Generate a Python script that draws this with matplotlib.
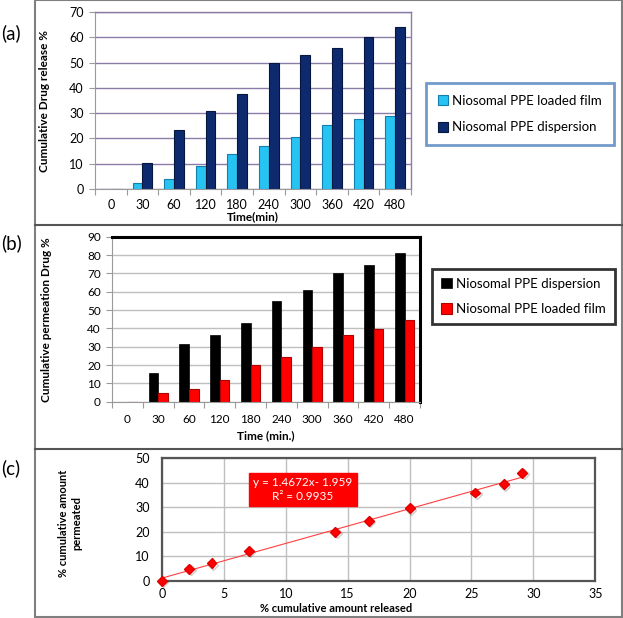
import numpy as np
import matplotlib
matplotlib.use("Agg")
import matplotlib.pyplot as plt
from matplotlib.patches import Rectangle
from matplotlib.lines import Line2D
import matplotlib.patheffects as pe

plt.rcParams['font.family'] = ['Lato', 'DejaVu Sans']

# ---------------- data ----------------
time_labels = ["0", "30", "60", "120", "180", "240", "300", "360", "420", "480"]

# (a) release
release_film = [0, 2.3, 4.0, 9.0, 13.7, 17.0, 20.5, 25.4, 27.7, 29.0]
release_disp = [0, 10.3, 23.3, 30.8, 37.7, 49.7, 53.0, 55.7, 60.1, 63.9]

# (b) permeation
perm_disp = [0, 15.8, 31.3, 36.4, 43.0, 54.7, 60.8, 70.4, 74.4, 81.3]
perm_film = [0, 5.0, 7.0, 12.0, 20.0, 24.6, 30.0, 36.2, 39.6, 44.6]

# (c) correlation
corr_released = [0, 2.2, 4.0, 7.0, 14.0, 16.7, 20.0, 25.3, 27.6, 29.1]
corr_permeated = [0, 4.9, 7.1, 12.1, 19.9, 24.4, 29.6, 36.0, 39.4, 44.0]
eq_text = "y = 1.4672x- 1.959"
r2_text = "R² = 0.9935"

W, H = 623, 618
fig = plt.figure(figsize=(W / 100, H / 100), dpi=100)

def ax_px(x0, y0, x1, y1):
    return fig.add_axes([x0 / W, 1 - y1 / H, (x1 - x0) / W, (y1 - y0) / H])

def fx(x):
    return x / W

def fy(y):
    return 1 - y / H

# outer panel frames
fig.patches.append(Rectangle((fx(35), fy(617)), fx(622) - fx(35), fy(0) - fy(617),
                             transform=fig.transFigure, fill=False, edgecolor='#7f7f7f', lw=1.5))
for yy in (225, 449):
    fig.add_artist(Line2D([fx(35), fx(622)], [fy(yy), fy(yy)], transform=fig.transFigure,
                          color='#555555', lw=1.5))

# panel labels
for lab, yy in (("(a)", 33), ("(b)", 243), ("(c)", 468)):
    fig.text(fx(11), fy(yy), lab, fontsize=13.5, ha='center', va='center')

x = np.arange(len(time_labels))

def cat_axis(ax, tick_fs, spine_col, xpad):
    ax.set_xlim(-0.5, len(time_labels) - 0.5)
    ax.set_xticks(np.arange(-0.5, len(time_labels)), labels=[])
    ax.set_xticks(x, labels=time_labels, minor=True)
    ax.tick_params(axis='x', which='major', length=4, color=spine_col, direction='out')
    ax.tick_params(axis='x', which='minor', length=0, pad=xpad, labelsize=tick_fs)
    ax.tick_params(axis='y', length=4, color=spine_col, labelsize=tick_fs, pad=4)
    ax.set_axisbelow(True)

# ---------------- (a) ----------------
axa = ax_px(95, 12, 411, 189)
bw = 0.31
axa.bar(x - bw / 2, release_film, bw, color='#27C3F3', edgecolor='#147FAF', lw=0.8,
        label='Niosomal PPE loaded film')
axa.bar(x + bw / 2, release_disp, bw, color='#0E2A6E', edgecolor='#06173F', lw=0.8,
        label='Niosomal PPE dispersion')
axa.set_ylim(0, 70)
axa.set_yticks(np.arange(0, 71, 10))
cat_axis(axa, 9, '#9a9a9a', 7)
axa.yaxis.grid(True, color='#8a7ca8', lw=1.0)
for s in ('top', 'right'):
    axa.spines[s].set_color('#8a7ca8')
    axa.spines[s].set_linewidth(1.0)
for s in ('left', 'bottom'):
    axa.spines[s].set_color('#9a9a9a')
axa.set_ylabel('Cumulative Drug release %', fontsize=8.5, fontweight='bold')
axa.yaxis.set_label_coords((50 - 95) / 316, 0.5)
fig.text(fx(253), fy(217), 'Time(min)', fontsize=8.5, fontweight='bold', ha='center', va='center')
lga = fig.legend(*axa.get_legend_handles_labels(), loc='center',
                 bbox_to_anchor=(fx(520), fy(114)), fontsize=9.5, frameon=True,
                 fancybox=False, edgecolor='#4f81bd', handlelength=0.8, handleheight=0.8,
                 handletextpad=0.3, labelspacing=1.1, borderpad=0.9, borderaxespad=0)
lga.get_frame().set_linewidth(2)

# ---------------- (b) ----------------
axb = ax_px(112, 236.7, 420, 401.7)
axb.bar(x - bw / 2, perm_disp, bw, color='#000000', edgecolor='#000000', lw=0.5,
        label='Niosomal PPE dispersion')
axb.bar(x + bw / 2, perm_film, bw, color='#ff0000', edgecolor='#b00000', lw=0.8,
        label='Niosomal PPE loaded film')
axb.set_ylim(0, 90)
axb.set_yticks(np.arange(0, 91, 10))
cat_axis(axb, 8.5, '#9a9a9a', 9)
axb.yaxis.grid(True, color='#bfbfbf', lw=1.0)
for s in ('top', 'right'):
    axb.spines[s].set_color('black')
    axb.spines[s].set_linewidth(2.2)
for s in ('left', 'bottom'):
    axb.spines[s].set_color('#9a9a9a')
axb.set_ylabel('Cumulative permeation Drug %', fontsize=8.5, fontweight='bold')
axb.yaxis.set_label_coords((52 - 112) / 308, 0.5)
fig.text(fx(266), fy(436), 'Time (min.)', fontsize=8.5, fontweight='bold', ha='center', va='center')
lgb = fig.legend(*axb.get_legend_handles_labels(), loc='center',
                 bbox_to_anchor=(fx(523.5), fy(296.5)), fontsize=9.5, frameon=True,
                 fancybox=False, edgecolor='black', handlelength=0.8, handleheight=0.8,
                 handletextpad=0.3, labelspacing=1.0, borderpad=0.7, borderaxespad=0)
lgb.get_frame().set_linewidth(2)

# ---------------- (c) ----------------
axc = ax_px(162, 458.3, 595.3, 580.7)
fit = np.polyfit(corr_released, corr_permeated, 1)
xs = np.array([0, max(corr_released)])
axc.plot(xs, np.polyval(fit, xs), color='#ff4040', lw=0.8, zorder=2)
axc.plot(corr_released, corr_permeated, linestyle='none', marker='D', ms=5,
         color='#ff0000', mec='#e00000', zorder=3, clip_on=False,
         path_effects=[pe.SimpleLineShadow(offset=(1.0, -1.0), alpha=0.2), pe.Normal()])
axc.set_xlim(0, 35)
axc.set_ylim(0, 50)
axc.set_xticks(np.arange(0, 36, 5))
axc.set_yticks(np.arange(0, 51, 10))
axc.grid(True, color='#bfbfbf', lw=1.0)
axc.set_axisbelow(True)
for s in axc.spines.values():
    s.set_color('#555555')
    s.set_linewidth(1.6)
axc.tick_params(axis='both', length=0, labelsize=9)
axc.tick_params(axis='x', pad=5)
axc.tick_params(axis='y', pad=9)
fig.text(fx(70), fy(523), '% cumulative amount\npermeated', fontsize=8, fontweight='bold',
         ha='center', va='center', rotation=90, linespacing=1.3)
fig.text(fx(336), fy(609), '% cumulative amount released', fontsize=8, fontweight='bold',
         ha='center', va='center')
axc.text(11.37, 37.3, eq_text + "\n" + r2_text, color='white', fontsize=8.5,
         ha='center', va='center', multialignment='center', linespacing=1.25,
         bbox=dict(boxstyle='square,pad=0.35', facecolor='#ff0000', edgecolor='#ff0000'))

fig.savefig('out.png', dpi=100)
